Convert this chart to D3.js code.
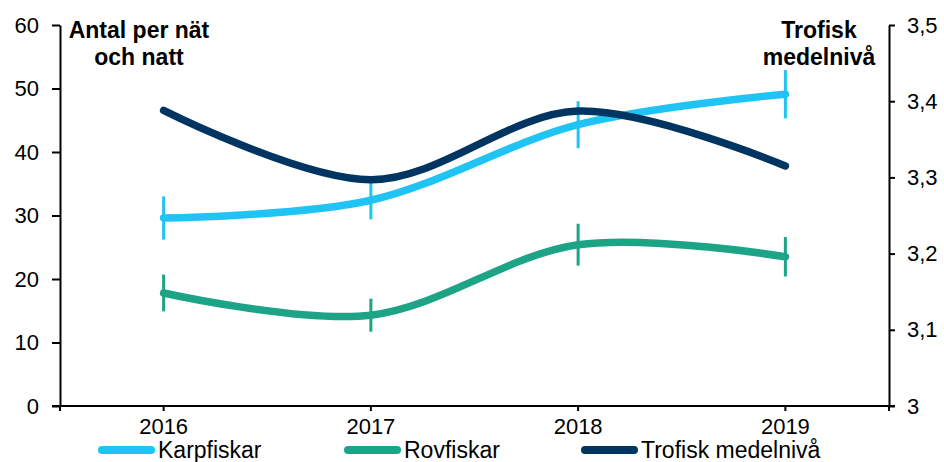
<!DOCTYPE html>
<html>
<head>
<meta charset="utf-8">
<script src="https://cdn.jsdelivr.net/npm/d3@7"></script>
<style>
  body { margin: 0; background: #fff; }
  svg { display: block; font-family: Arial, "Liberation Sans", sans-serif; }
  .axis text { font-size: 22px; fill: #000; }
  .axis path, .axis line { stroke: #000; stroke-width: 2; }
  .title { font-size: 23px; font-weight: bold; text-anchor: middle; }
  .legend text { font-size: 23px; }
</style>
</head>
<body>
<div class="chart"></div>
<script>
var years = ['2016', '2017', '2018', '2019'];

var karpfiskar = [29.6, 32.4, 44.3, 49.1];
var karpfiskarErr = [3.4, 3.0, 3.7, 3.8];

var rovfiskar = [17.8, 14.3, 25.4, 23.5];
var rovfiskarErr = [2.9, 2.6, 3.3, 3.1];

var trofisk = [3.388, 3.297, 3.387, 3.315];

var leftTicks = [0, 10, 20, 30, 40, 50, 60];
var rightTicks = [3, 3.1, 3.2, 3.3, 3.4, 3.5];

var colors = {karp: '#1fc4f4', rov: '#1da385', trof: '#003562'};

var width = 944, height = 462;
var plot = {left: 60, right: 889, top: 25, bottom: 406};

var svg = d3.select('div.chart').append('svg')
    .attr('width', width)
    .attr('height', height);

var xScale = d3.scaleBand()
    .domain(years)
    .range([plot.left, plot.right]);

var yLeft = d3.scaleLinear()
    .domain([0, 60])
    .range([plot.bottom, plot.top]);

var yRight = d3.scaleLinear()
    .domain([3, 3.5])
    .range([plot.bottom, plot.top]);

var xc = d => xScale(d) + xScale.bandwidth() / 2;

// axes
svg.append('g')
    .attr('class', 'axis')
    .attr('transform', 'translate(' + plot.left + ',0)')
    .call(d3.axisLeft(yLeft)
          .tickValues(leftTicks)
          .tickSize(8)
          .tickPadding(13)
          .tickSizeOuter(0));

svg.append('g')
    .attr('class', 'axis')
    .attr('transform', 'translate(' + plot.right + ',0)')
    .call(d3.axisRight(yRight)
          .tickValues(rightTicks)
          .tickSize(6)
          .tickPadding(12)
          .tickSizeOuter(0)
          .tickFormat(d => d === 3 ? '3' : d.toFixed(1).replace('.', ',')));

var xAxis = svg.append('g')
    .attr('class', 'axis')
    .attr('transform', 'translate(0,' + plot.bottom + ')')
    .call(d3.axisBottom(xScale)
          .tickSize(5)
          .tickPadding(7)
          .tickSizeOuter(0));
xAxis.select('.domain').remove();
xAxis.append('line')
    .attr('x1', plot.left - 8).attr('x2', plot.right + 6);
xAxis.selectAll('.edge')
    .data([plot.left, plot.right]).enter().append('line')
    .attr('class', 'edge')
    .attr('x1', d => d).attr('x2', d => d)
    .attr('y1', 0).attr('y2', 5);

// axis titles
svg.append('text').attr('class', 'title')
    .attr('x', 139).attr('y', 38).text('Antal per nät');
svg.append('text').attr('class', 'title')
    .attr('x', 139).attr('y', 65).text('och natt');
svg.append('text').attr('class', 'title')
    .attr('x', 819).attr('y', 38).text('Trofisk');
svg.append('text').attr('class', 'title')
    .attr('x', 819).attr('y', 65).text('medelnivå');

var curve = d3.curveCardinal.tension(0);

function drawSeries(values, errs, scale, color) {
  var pts = years.map((y, i) => ({year: y, v: values[i], e: errs ? errs[i] : 0}));
  var g = svg.append('g');
  if (errs) {
    g.selectAll('.err')
      .data(pts).enter().append('line')
        .attr('x1', d => xc(d.year))
        .attr('x2', d => xc(d.year))
        .attr('y1', d => scale(d.v + d.e))
        .attr('y2', d => scale(d.v - d.e))
        .attr('stroke', color)
        .attr('stroke-width', 3);
  }
  g.append('path')
      .datum(pts)
      .attr('fill', 'none')
      .attr('stroke', color)
      .attr('stroke-width', 7.5)
      .attr('stroke-linecap', 'round')
      .attr('d', d3.line()
            .x(d => xc(d.year))
            .y(d => scale(d.v))
            .curve(curve));
}

drawSeries(karpfiskar, karpfiskarErr, yLeft, colors.karp);
drawSeries(rovfiskar, rovfiskarErr, yLeft, colors.rov);
drawSeries(trofisk, null, yRight, colors.trof);

// legend
var legendItems = [
  {name: 'Karpfiskar', color: colors.karp, x: 98},
  {name: 'Rovfiskar', color: colors.rov, x: 344},
  {name: 'Trofisk medelnivå', color: colors.trof, x: 581}
];
var legend = svg.append('g').attr('class', 'legend');
var item = legend.selectAll('g')
  .data(legendItems).enter().append('g')
    .attr('transform', d => 'translate(' + d.x + ',450)');
item.append('line')
    .attr('x1', 4).attr('x2', 53)
    .attr('stroke', d => d.color)
    .attr('stroke-width', 8)
    .attr('stroke-linecap', 'round');
item.append('text')
    .attr('x', 60)
    .attr('y', 0)
    .attr('dy', '0.35em')
    .text(d => d.name);
</script>
</body>
</html>
